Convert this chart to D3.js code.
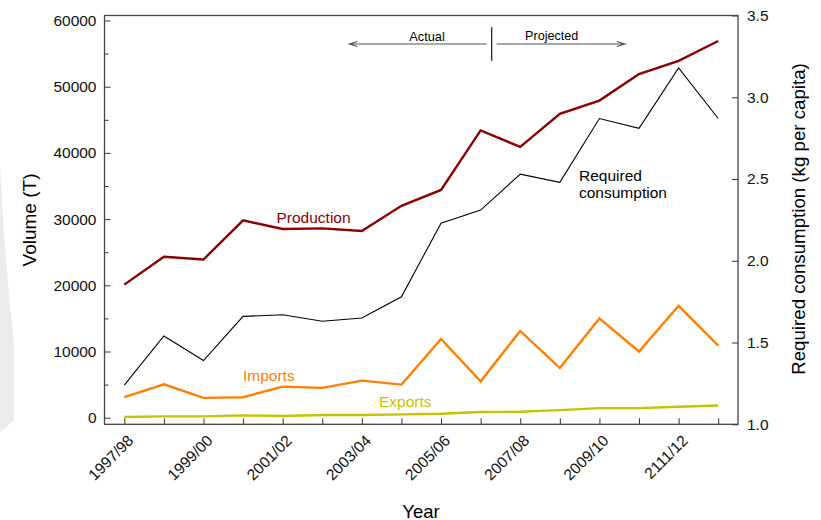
<!DOCTYPE html>
<html>
<head>
<meta charset="utf-8">
<script src="https://cdn.jsdelivr.net/npm/d3@7"></script>
<style>
  body { margin: 0; background: #fff; }
  svg { font-family: "Liberation Sans", Arial, Helvetica, sans-serif; }
</style>
</head>
<body>
<div id="vis"></div>
<script>
// years on the x axis (the typo "2111/12" is in the source figure)
var years = ["1997/98", "1998/99", "1999/00", "2000/01", "2001/02", "2002/03",
  "2003/04", "2004/05", "2005/06", "2006/07", "2007/08", "2008/09",
  "2009/10", "2010/11", "2111/12", "2012/13"];

// volumes in tonnes (left axis)
var production = [20100, 24300, 23900, 29800, 28500, 28600, 28200, 32000,
  34400, 43400, 40900, 45900, 47900, 51900, 53900, 56900];
var imports = [3100, 5050, 3000, 3100, 4700, 4500, 5600, 5000,
  11900, 5500, 13100, 7500, 15000, 10000, 16900, 10900];
var exports = [100, 200, 200, 350, 250, 400, 400, 500,
  600, 850, 900, 1150, 1450, 1450, 1650, 1850];

// required consumption, kg per capita (right axis)
var required = [1.24, 1.54, 1.39, 1.66, 1.67, 1.63, 1.65, 1.78,
  2.23, 2.31, 2.53, 2.48, 2.87, 2.81, 3.18, 2.87];

var leftTicks = [0, 10000, 20000, 30000, 40000, 50000, 60000];
var leftMinor = [5000, 15000, 25000, 35000, 45000, 55000];
var rightTicks = [1.0, 1.5, 2.0, 2.5, 3.0, 3.5];

var width = 821;
var height = 520;
var box = { left: 104.5, right: 738, top: 15.5, bottom: 424.3 };

var svg = d3.select('#vis').append('svg')
  .attr('width', width)
  .attr('height', height);

// faint grey shape at the left edge of the original image
svg.append('path')
  .attr('d', 'M0,165 L4,235 L9,295 L14,345 L14,420 L0,432 Z')
  .style('fill', '#ebebeb');

var x = d3.scalePoint()
  .domain(years)
  .range([box.left, box.right])
  .padding(0.5);

var yLeft = d3.scaleLinear()
  .domain([0, 60000])
  .range([417.7, 20.5]);

var yRight = d3.scaleLinear()
  .domain([1, 3.5])
  .range([box.bottom, box.top]);

var g = svg.append('g');

// ----- axes (ticks point inwards like the R plot)
var tickFont = '15.5px';

g.append('g')
  .attr('transform', 'translate(' + box.left + ',0)')
  .call(d3.axisLeft(yLeft).tickValues(leftTicks).tickSizeInner(-6).tickSizeOuter(0).tickPadding(8)
    .tickFormat(d3.format('d')));

g.append('g')
  .attr('transform', 'translate(' + box.left + ',0)')
  .call(d3.axisLeft(yLeft).tickValues(leftMinor).tickSizeInner(-4).tickSizeOuter(0).tickFormat(''));

g.append('g')
  .attr('transform', 'translate(' + box.right + ',0)')
  .call(d3.axisRight(yRight).tickValues(rightTicks).tickSizeInner(-6).tickSizeOuter(0).tickPadding(9)
    .tickFormat(d3.format('.1f')));

var bottomAxis = g.append('g')
  .attr('transform', 'translate(0,' + box.bottom + ')')
  .call(d3.axisBottom(x).tickSizeInner(-6).tickSizeOuter(0)
    .tickFormat(function (d, i) { return i % 2 === 0 ? d : ''; }));

bottomAxis.selectAll('text')
  .attr('text-anchor', 'end')
  .attr('transform', 'translate(3,5) rotate(-45)')
  .attr('dy', '0.35em')
  .attr('y', 8)
  .attr('x', -4);

g.selectAll('.domain').remove();
g.selectAll('.tick line').style('stroke', '#333');
g.selectAll('.tick text')
  .style('font-size', tickFont)
  .style('fill', '#111')
  .style('font-family', '"Liberation Sans", Arial, sans-serif');

// plot frame
g.append('rect')
  .attr('x', box.left)
  .attr('y', box.top)
  .attr('width', box.right - box.left)
  .attr('height', box.bottom - box.top)
  .style('fill', 'none')
  .style('stroke', '#444')
  .style('stroke-width', 1.3);

// ----- series
var lineLeft = d3.line()
  .x(function (d, i) { return x(years[i]); })
  .y(function (d) { return yLeft(d); });

var lineRight = d3.line()
  .x(function (d, i) { return x(years[i]); })
  .y(function (d) { return yRight(d); });

g.append('path').datum(exports)
  .attr('d', lineLeft)
  .style('fill', 'none').style('stroke', '#c4c400').style('stroke-width', 2.4);

g.append('path').datum(imports)
  .attr('d', lineLeft)
  .style('fill', 'none').style('stroke', '#ff7f00').style('stroke-width', 2.4);

g.append('path').datum(required)
  .attr('d', lineRight)
  .style('fill', 'none').style('stroke', '#000').style('stroke-width', 1.1);

g.append('path').datum(production)
  .attr('d', lineLeft)
  .style('fill', 'none').style('stroke', '#8b0000').style('stroke-width', 2.4);

// ----- line labels
function label(txt, px, py, col) {
  g.append('text')
    .attr('x', px).attr('y', py)
    .style('font-size', '15.5px')
    .style('fill', col)
    .text(txt);
}
label('Production', 276.5, 223, '#8b0000');
label('Imports', 243, 381, '#ff7f00');
label('Exports', 379, 407, '#c4c400');
label('Required', 579, 180.5, '#000');
label('consumption', 579, 197.5, '#000');

// ----- actual / projected annotation
var ann = g.append('g').style('stroke', '#555').style('stroke-width', 1.1).style('fill', 'none');
ann.append('path').attr('d', 'M486.7,44 L349.3,44 M357.5,41.5 L349.3,44 L357.5,46.5');
ann.append('path').attr('d', 'M496.7,44 L625,44 M616.8,41.5 L625,44 L616.8,46.5');
ann.append('line')
  .attr('x1', 491.7).attr('x2', 491.7)
  .attr('y1', 27.3).attr('y2', 60.7)
  .style('stroke', '#000');

g.append('text')
  .attr('x', 427).attr('y', 40.7)
  .attr('text-anchor', 'middle')
  .style('font-size', '12.8px')
  .text('Actual');
g.append('text')
  .attr('x', 551.7).attr('y', 40)
  .attr('text-anchor', 'middle')
  .style('font-size', '12.6px')
  .text('Projected');

// ----- axis titles
g.append('text')
  .attr('transform', 'translate(36,220) rotate(-90)')
  .attr('text-anchor', 'middle')
  .style('font-size', '19px')
  .text('Volume (T)');

g.append('text')
  .attr('transform', 'translate(805,219) rotate(-90)')
  .attr('text-anchor', 'middle')
  .style('font-size', '18.7px')
  .text('Required consumption  (kg per capita)');

g.append('text')
  .attr('x', 421).attr('y', 517.5)
  .attr('text-anchor', 'middle')
  .style('font-size', '18.5px')
  .text('Year');
</script>
</body>
</html>
